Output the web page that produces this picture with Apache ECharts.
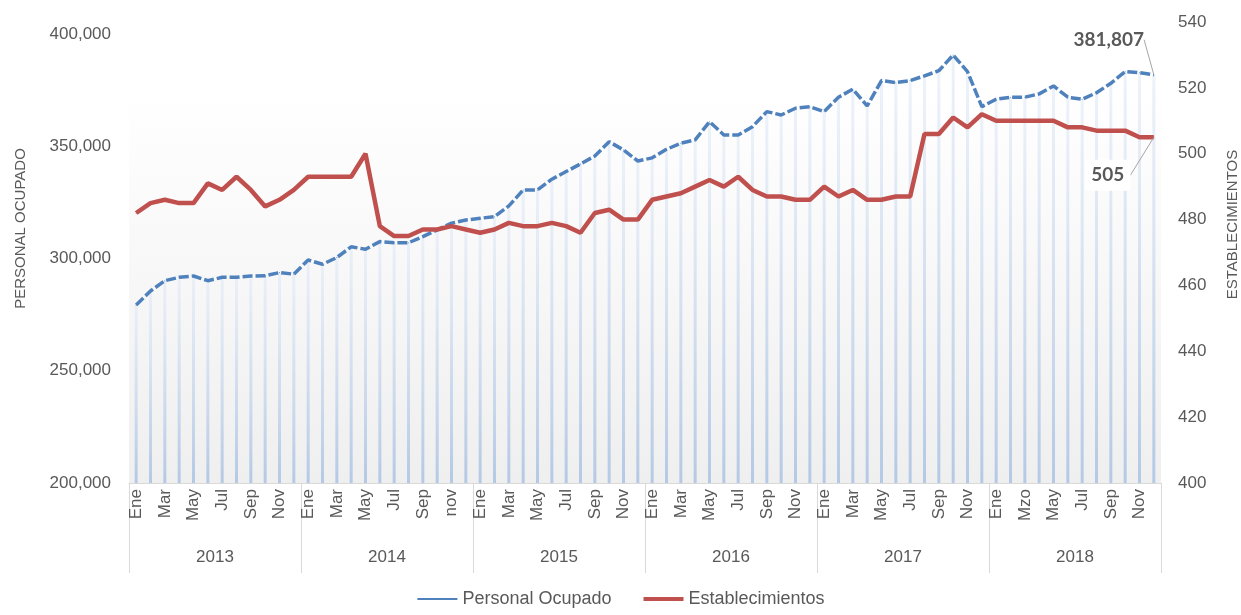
<!DOCTYPE html>
<html>
<head>
<meta charset="utf-8">
<script src="https://cdn.jsdelivr.net/npm/echarts@6/dist/echarts.min.js"></script>
<style>
  html, body { margin: 0; padding: 0; background: #fff; }
  #chart { width: 1241px; height: 615px; }
</style>
</head>
<body>
<div id="chart"></div>
<script>
  const FONT = "'Liberation Sans', Arial, sans-serif";
  const TEXT = '#595959';

  const years = ['2013', '2014', '2015', '2016', '2017', '2018'];
  const monthLabels = [
    'Ene', 'Feb', 'Mar', 'Abr', 'May', 'Jun', 'Jul', 'Ago', 'Sep', 'Oct', 'Nov', 'Dic',
    'Ene', 'Feb', 'Mar', 'Abr', 'May', 'Jun', 'Jul', 'Ago', 'Sep', 'Oct', 'nov', 'Dic',
    'Ene', 'Feb', 'Mar', 'Abr', 'May', 'Jun', 'Jul', 'Ago', 'Sep', 'Oct', 'Nov', 'Dic',
    'Ene', 'Feb', 'Mar', 'Abr', 'May', 'Jun', 'Jul', 'Ago', 'Sep', 'Oct', 'Nov', 'Dic',
    'Ene', 'Feb', 'Mar', 'Abr', 'May', 'Jun', 'Jul', 'Ago', 'Sep', 'Oct', 'Nov', 'Dic',
    'Ene', 'Feb', 'Mzo', 'Abr', 'May', 'Jun', 'Jul', 'Ago', 'Sep', 'Oct', 'Nov', 'Dic',
  ];

  // Personal ocupado (eje izquierdo)
  const personal = [
    279300, 285500, 290100, 291600, 292200, 290100, 291600, 291600, 292200, 292300, 293700, 293000,
    299300, 297400, 300400, 305200, 304100, 307500, 307000, 307000, 309700, 312700, 315700, 317100,
    317900, 318600, 323400, 330500, 330500, 335300, 338700, 342100, 345600, 352000, 348300, 343400,
    344800, 348600, 351300, 352800, 360900, 355000, 355000, 358700, 365400, 363900, 366900, 367600,
    365400, 371800, 375400, 367900, 379200, 378300, 379200, 381300, 383600, 390600, 383200, 367600,
    370900, 371800, 371800, 373300, 376800, 371800, 370900, 373800, 378000, 383200, 382700, 381807,
  ];

  // Establecimientos (eje derecho)
  const establecimientos = [
    482, 485, 486, 485, 485, 491, 489, 493, 489, 484, 486, 489,
    493, 493, 493, 493, 500, 478, 475, 475, 477, 477, 478, 477,
    476, 477, 479, 478, 478, 479, 478, 476, 482, 483, 480, 480,
    486, 487, 488, 490, 492, 490, 493, 489, 487, 487, 486, 486,
    490, 487, 489, 486, 486, 487, 487, 506, 506, 511, 508, 512,
    510, 510, 510, 510, 510, 508, 508, 507, 507, 507, 505, 505,
  ];

  const LEFT_MIN = 200000;
  const LEFT_MAX = 405300;

  const chart = echarts.init(document.getElementById('chart'));
  const fmt = new Intl.NumberFormat('en-US');
  const last = personal.length - 1;

  const labelStyle = {
    show: true,
    fontFamily: 'Lato, sans-serif',
    fontWeight: 'bold',
    fontSize: 19,
    color: TEXT,
  };

  chart.setOption({
    animation: false,
    grid: {
      left: 129,
      right: 80,
      top: 22,
      bottom: 132,
      outerBoundsMode: 'none',
      show: true,
      borderWidth: 0,
      backgroundColor: new echarts.graphic.LinearGradient(0, 0, 0, 1, [
        { offset: 0, color: '#ffffff' },
        { offset: 0.15, color: '#ffffff' },
        { offset: 1, color: '#efefef' },
      ]),
    },
    legend: {
      bottom: 2,
      left: 'center',
      itemWidth: 40,
      itemHeight: 12,
      itemGap: 30,
      textStyle: { fontFamily: FONT, fontSize: 18, color: TEXT },
      data: [
        { name: 'Personal Ocupado', itemStyle: { opacity: 0 }, lineStyle: { type: 'solid', width: 2 } },
        { name: 'Establecimientos', itemStyle: { opacity: 0 }, lineStyle: { width: 4 } },
      ],
    },
    xAxis: [
      {
        type: 'category',
        data: monthLabels,
        axisLine: { lineStyle: { color: '#d9d9d9' } },
        axisTick: { show: false },
        axisLabel: {
          rotate: 90,
          interval: 1,
          margin: 6,
          fontFamily: FONT,
          fontSize: 17,
          color: TEXT,
        },
      },
      {
        type: 'category',
        data: years,
        position: 'bottom',
        axisLine: { show: false },
        axisTick: { show: true, length: 90, lineStyle: { color: '#d9d9d9' } },
        axisLabel: {
          margin: 66,
          fontFamily: FONT,
          fontSize: 17,
          color: TEXT,
        },
      },
    ],
    yAxis: [
      {
        type: 'value',
        min: LEFT_MIN,
        max: LEFT_MAX,
        interval: 50000,
        name: 'PERSONAL OCUPADO',
        nameLocation: 'middle',
        nameGap: 101,
        nameRotate: 90,
        nameTextStyle: { fontFamily: FONT, fontSize: 15, color: TEXT, padding: [0, 0, 0, 48] },
        splitLine: { show: false },
        axisLine: { show: false },
        axisTick: { show: false },
        axisLabel: {
          showMaxLabel: false,
          margin: 18,
          fontFamily: FONT,
          fontSize: 17,
          color: TEXT,
          formatter: (v) => fmt.format(v),
        },
      },
      {
        type: 'value',
        min: 400,
        max: 540,
        interval: 20,
        position: 'right',
        name: 'ESTABLECIMIENTOS',
        nameLocation: 'middle',
        nameGap: 64,
        nameRotate: 90,
        nameTextStyle: { fontFamily: FONT, fontSize: 15, color: TEXT, padding: [0, 0, 0, 56] },
        splitLine: { show: false },
        axisLine: { show: false },
        axisTick: { show: false },
        axisLabel: {
          margin: 17,
          fontFamily: FONT,
          fontSize: 17,
          color: TEXT,
        },
      },
    ],
    series: [
      {
        // hidden base so the thin columns start at the axis minimum
        type: 'bar',
        name: 'base',
        stack: 'cols',
        yAxisIndex: 0,
        barWidth: 3,
        silent: true,
        itemStyle: { color: 'transparent' },
        data: personal.map(() => LEFT_MIN),
      },
      {
        type: 'bar',
        name: 'cols',
        stack: 'cols',
        yAxisIndex: 0,
        barWidth: 3,
        silent: true,
        itemStyle: {
          color: new echarts.graphic.LinearGradient(0, 0, 0, 1, [
            { offset: 0, color: 'rgba(225,234,247,0.6)' },
            { offset: 1, color: '#b4c9e5' },
          ]),
        },
        data: personal.map((v) => v - LEFT_MIN),
      },
      {
        type: 'line',
        name: 'Personal Ocupado',
        yAxisIndex: 0,
        symbol: 'circle',
        symbolSize: 1,
        z: 3,
        lineStyle: { color: '#4f81bd', width: 3.5, type: [10, 3] },
        itemStyle: { color: '#4f81bd' },
        data: personal.map((v, i) => (i === last
          ? { value: v, label: Object.assign({}, labelStyle, { position: 'top', formatter: fmt.format(v) }) }
          : v)),
        labelLayout: { dx: -45, dy: -20 },
        labelLine: { show: true, lineStyle: { color: '#a6a6a6', width: 1 } },
      },
      {
        type: 'line',
        name: 'Establecimientos',
        yAxisIndex: 1,
        symbol: 'circle',
        symbolSize: 1,
        z: 4,
        lineStyle: { color: '#c0504d', width: 4.5 },
        itemStyle: { color: '#c0504d' },
        data: establecimientos.map((v, i) => (i === last
          ? {
            value: v,
            label: Object.assign({}, labelStyle, {
              position: 'bottom',
              formatter: String(v),
              backgroundColor: '#ffffff',
              padding: [6, 6],
            }),
          }
          : v)),
        labelLayout: { dx: -46, dy: 17 },
        labelLine: { show: true, lineStyle: { color: '#a6a6a6', width: 1 } },
      },
    ],
  });

  window.addEventListener('resize', () => {
    chart.resize();
  });
</script>
</body>
</html>
